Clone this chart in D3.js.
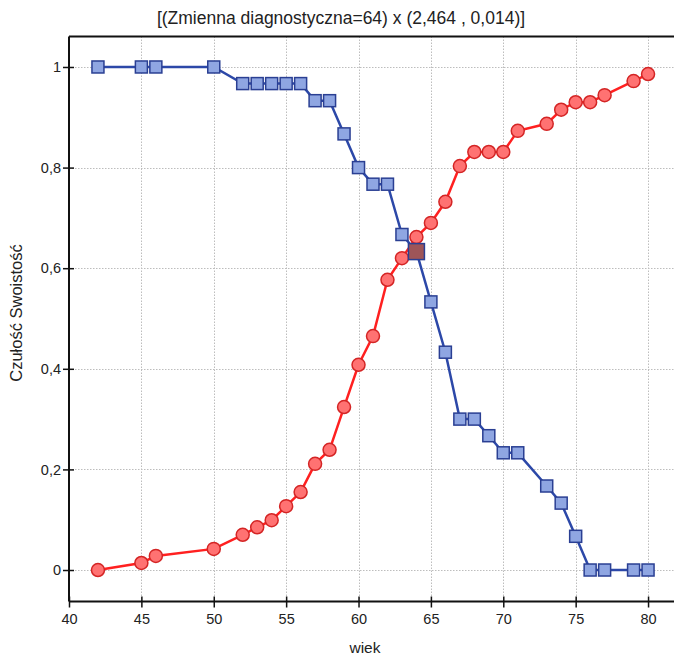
<!DOCTYPE html>
<html>
<head>
<meta charset="utf-8">
<script src="https://cdn.jsdelivr.net/npm/d3@7"></script>
<style>
	body { margin: 0; background: #fff; }
	svg text { font-family: 'Liberation Sans', Arial, sans-serif; fill: #222; }
	.grid line { stroke: #bdbdbd; stroke-dasharray: 1.5, 1.5; }
</style>
</head>
<body>
<svg width="674" height="657"></svg>
<script>
	// wiek (age) cut-offs
	let ages = [42, 45, 46, 50, 52, 53, 54, 55, 56, 57, 58, 59, 60, 61, 62, 63, 64, 65, 66, 67, 68, 69, 70, 71, 73, 74, 75, 76, 77, 79, 80];

	// czułość (sensitivity)
	let sensitivity = [1, 1, 1, 1, 0.967, 0.967, 0.967, 0.967, 0.967, 0.933, 0.933, 0.867, 0.8, 0.767, 0.767, 0.667, 0.633,
		0.533, 0.433, 0.3, 0.3, 0.267, 0.233, 0.233, 0.167, 0.133, 0.067, 0, 0, 0, 0];

	// swoistość (specificity)
	let specificity = [0, 0.014, 0.028, 0.042, 0.07, 0.085, 0.099, 0.127, 0.155, 0.211, 0.239, 0.324, 0.408, 0.465, 0.577, 0.62, 0.662,
		0.69, 0.732, 0.803, 0.831, 0.831, 0.831, 0.873, 0.887, 0.915, 0.93, 0.93, 0.944, 0.972, 0.986];

	let xTicks = [40, 45, 50, 55, 60, 65, 70, 75, 80];
	let yTicks = [0, 0.2, 0.4, 0.6, 0.8, 1];
	let cutoff = 64;

	let title = '[(Zmienna diagnostyczna=64) x (2,464 , 0,014)]';

	let data = ages.map((a, i) => ({ age: a, sens: sensitivity[i], spec: specificity[i] }));

	let svg = d3.select('svg');

	let mLeft = 69, mTop = 36.5, mBottom = 601.5, mRight = 677;

	let x = d3.scaleLinear().domain([40, 82]).range([mLeft, mRight]);
	let y = d3.scaleLinear().domain([-0.0626, 1.0606]).range([mBottom, mTop]);

	let fmt = d => String(d).replace('.', ',');

	// grid
	let grid = svg.append('g').attr('class', 'grid');
	grid.selectAll('.gx')
		.data(xTicks.slice(1))
		.enter()
		.append('line')
		.attr('x1', d => Math.round(x(d)) + 0.5)
		.attr('x2', d => Math.round(x(d)) + 0.5)
		.attr('y1', mTop)
		.attr('y2', mBottom);
	grid.selectAll('.gy')
		.data(yTicks)
		.enter()
		.append('line')
		.attr('x1', mLeft)
		.attr('x2', mRight)
		.attr('y1', d => Math.round(y(d)) + 0.5)
		.attr('y2', d => Math.round(y(d)) + 0.5);

	// frame top
	svg.append('line')
		.attr('x1', mLeft).attr('x2', mRight)
		.attr('y1', mTop).attr('y2', mTop)
		.attr('stroke', '#111').attr('stroke-width', 2);

	let xAxis = d3.axisBottom(x).tickValues(xTicks).tickSizeInner(-5).tickSizeOuter(0).tickPadding(0).tickFormat(fmt);
	let yAxis = d3.axisLeft(y).tickValues(yTicks).tickSizeInner(-5).tickSizeOuter(0).tickPadding(0).tickFormat(fmt);

	let gx = svg.append('g')
		.attr('transform', 'translate(0, ' + mBottom + ')')
		.call(xAxis);
	gx.select('.domain').attr('stroke', '#111').attr('stroke-width', 2).attr('d', 'M' + mLeft + ',0H' + mRight);
	gx.selectAll('.tick line').attr('y1', -5).attr('y2', 6).attr('stroke', '#111').attr('stroke-width', 1.5);
	gx.selectAll('.tick text').attr('y', 12).attr('dy', '0.71em').style('font-size', '14.5px');

	let gy = svg.append('g')
		.attr('transform', 'translate(' + mLeft + ', 0)')
		.call(yAxis);
	gy.select('.domain').attr('stroke', '#111').attr('stroke-width', 2).attr('d', 'M0,' + mTop + 'V' + mBottom);
	gy.selectAll('.tick line').attr('x1', -6).attr('x2', 5).attr('stroke', '#111').attr('stroke-width', 1.5);
	gy.selectAll('.tick text').attr('x', -8).style('font-size', '14.5px');

	// titles
	svg.append('text')
		.attr('x', 341).attr('y', 24)
		.attr('text-anchor', 'middle')
		.style('font-size', '17.5px')
		.text(title);

	svg.append('text')
		.attr('x', 365).attr('y', 653)
		.attr('text-anchor', 'middle')
		.style('font-size', '15.5px')
		.text('wiek');

	svg.append('text')
		.attr('transform', 'translate(22, 313) rotate(-90)')
		.attr('text-anchor', 'middle')
		.style('font-size', '16.5px')
		.text('Czułość Swoistość');

	// sensitivity line
	let sensLine = d3.line().x(d => x(d.age)).y(d => y(d.sens));
	svg.append('path')
		.datum(data)
		.attr('fill', 'none')
		.attr('stroke', '#2c48a8')
		.attr('stroke-width', 2.5)
		.attr('d', sensLine);

	svg.selectAll('.sensdots')
		.data(data)
		.enter()
		.append('rect')
		.attr('class', 'sensdots')
		.attr('x', d => x(d.age) - 6)
		.attr('y', d => y(d.sens) - 6)
		.attr('width', 12)
		.attr('height', 12)
		.attr('fill', '#8fa6e2')
		.attr('stroke', '#2a3f93')
		.attr('stroke-width', 1.5);

	// specificity line
	let specLine = d3.line().x(d => x(d.age)).y(d => y(d.spec));
	svg.append('path')
		.datum(data)
		.attr('fill', 'none')
		.attr('stroke', '#ff2020')
		.attr('stroke-width', 2.5)
		.attr('d', specLine);

	svg.selectAll('.specdots')
		.data(data)
		.enter()
		.append('circle')
		.attr('class', 'specdots')
		.attr('cx', d => x(d.age))
		.attr('cy', d => y(d.spec))
		.attr('r', 6.5)
		.attr('fill', '#ff7272')
		.attr('stroke', '#d42525')
		.attr('stroke-width', 1.5);

	// chosen cut-off
	let chosen = data.filter(d => d.age == cutoff);
	svg.selectAll('.chosen')
		.data(chosen)
		.enter()
		.append('rect')
		.attr('class', 'chosen')
		.attr('x', d => x(d.age) - 8)
		.attr('y', d => y(d.sens) - 8)
		.attr('width', 16)
		.attr('height', 16)
		.attr('fill', '#9e5558')
		.attr('stroke', '#2a3f93')
		.attr('stroke-width', 1.5);
</script>
</body>
</html>
